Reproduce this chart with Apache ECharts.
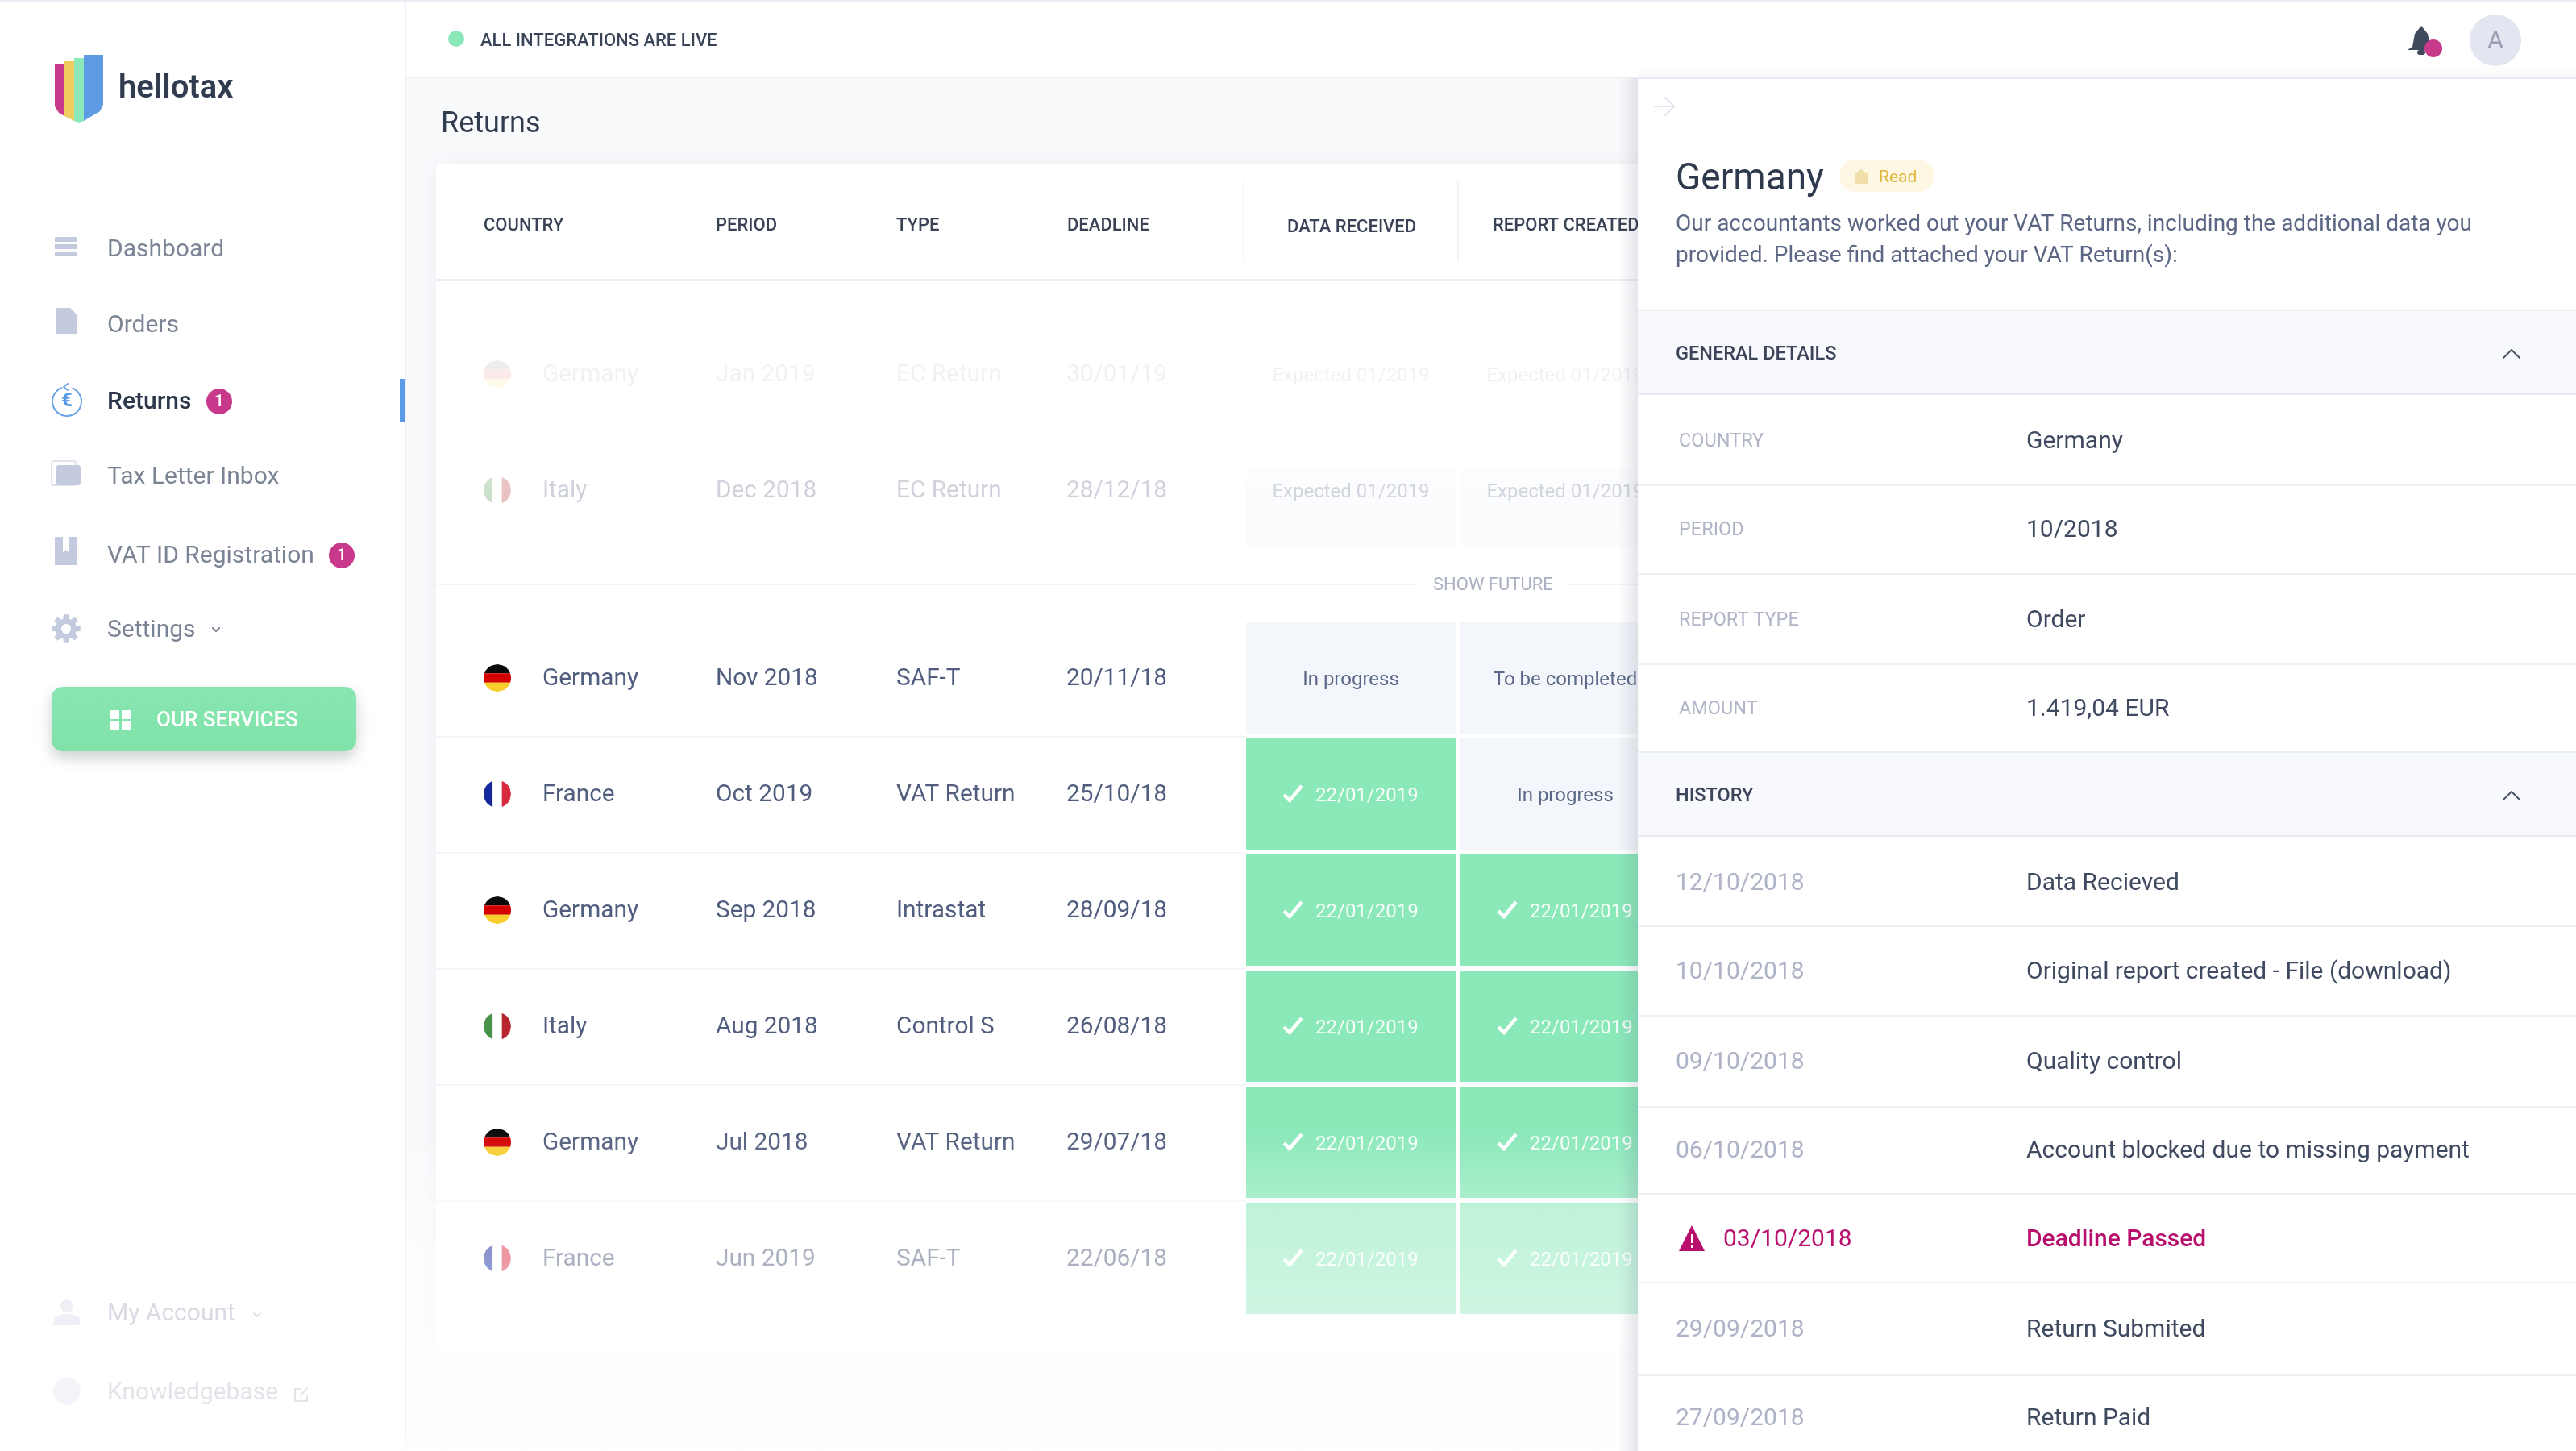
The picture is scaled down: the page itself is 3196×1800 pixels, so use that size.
<!DOCTYPE html>
<html lang="en">
<head>
<meta charset="UTF-8">
<title>hellotax returns</title>
<style>
html,body{margin:0;padding:0;background:#fff;}
#chart{width:3196px;height:1800px;}
</style>
</head>
<body>
<div id="chart"></div>
<script src="https://cdn.jsdelivr.net/npm/echarts@6/dist/echarts.min.js"></script>
<script>
// table data
var statusColumns = ['DATA RECEIVED', 'REPORT CREATED'];
var columnTitles = ['COUNTRY', 'PERIOD', 'TYPE', 'DEADLINE'];

var futureCountries = ['Germany', 'Italy'];
var futurePeriods = ['Jan 2019', 'Dec 2018'];
var futureTypes = ['EC Return', 'EC Return'];
var futureDeadlines = ['30/01/19', '28/12/18'];
var futureReceived = ['Expected 01/2019', 'Expected 01/2019'];
var futureCreated = ['Expected 01/2019', 'Expected 01/2019'];

var countries = ['Germany', 'France', 'Germany', 'Italy', 'Germany', 'France'];
var periods = ['Nov 2018', 'Oct 2019', 'Sep 2018', 'Aug 2018', 'Jul 2018', 'Jun 2019'];
var types = ['SAF-T', 'VAT Return', 'Intrastat', 'Control S', 'VAT Return', 'SAF-T'];
var deadlines = ['20/11/18', '25/10/18', '28/09/18', '26/08/18', '29/07/18', '22/06/18'];
var received = ['In progress', '22/01/2019', '22/01/2019', '22/01/2019', '22/01/2019', '22/01/2019'];
var created = ['To be completed', 'In progress', '22/01/2019', '22/01/2019', '22/01/2019', '22/01/2019'];

// side panel data
var detailLabels = ['COUNTRY', 'PERIOD', 'REPORT TYPE', 'AMOUNT'];
var detailValues = ['Germany', '10/2018', 'Order', '1.419,04 EUR'];
var historyDates = ['12/10/2018', '10/10/2018', '09/10/2018', '06/10/2018', '03/10/2018', '29/09/2018', '27/09/2018'];
var historyEvents = ['Data Recieved', 'Original report created - File (download)', 'Quality control',
    'Account blocked due to missing payment', 'Deadline Passed', 'Return Submited', 'Return Paid'];
var navItems = ['Dashboard', 'Orders', 'Returns', 'Tax Letter Inbox', 'VAT ID Registration', 'Settings'];

// layout (pixels in the 3196x1800 page)
var FONT = 'Roboto';
var GREEN = '#8ae8b9', PINK = '#c8388b', CRIMSON = '#b80f6d', ICON = '#c5cbdf';
var PANEL_X = 2032, CARD_X = 541;
var COL_X = [673, 888, 1112, 1323];
var FLAGS = {
    Germany: {dir: 'h', colors: ['#0a0a0a', '#d40000', '#f8cd2c']},
    France: {dir: 'v', colors: ['#14289b', '#ffffff', '#d92b3f']},
    Italy: {dir: 'v', colors: ['#4a9149', '#ffffff', '#b7262f']}
};

var g = [];

function rect(x, y, w, h, fill, z, r, extra) {
    var style = {fill: fill};
    if (extra) { for (var k in extra) style[k] = extra[k]; }
    g.push({type: 'rect', silent: true, z: z || 0, shape: {x: x, y: y, width: w, height: h, r: r || 0}, style: style});
}
function text(str, x, y, size, color, z, weight, align, family) {
    g.push({type: 'text', silent: true, z: z || 0, style: {
        text: str, x: x, y: y + 2, fill: color, align: align || 'left', verticalAlign: 'middle',
        font: (weight || 400) + ' ' + size + 'px ' + (family || FONT)
    }});
}
function circle(cx, cy, r, fill, z) {
    g.push({type: 'circle', silent: true, z: z || 0, shape: {cx: cx, cy: cy, r: r}, style: {fill: fill}});
}
function poly(points, fill, z) {
    g.push({type: 'polygon', silent: true, z: z || 0, shape: {points: points}, style: {fill: fill}});
}
function stroke(points, color, width, z) {
    g.push({type: 'polyline', silent: true, z: z || 0, shape: {points: points},
        style: {fill: 'none', stroke: color, lineWidth: width, lineCap: 'round', lineJoin: 'round'}});
}
function vfade(stops) {
    return {type: 'linear', x: 0, y: 0, x2: 0, y2: 1, colorStops: stops};
}

// one band of a round flag, sampled along the circle
function flagBand(cx, cy, r, dir, a, b) {
    var pts = [], i, t, half;
    for (i = 0; i <= 8; i++) {
        t = a + (b - a) * i / 8;
        half = Math.sqrt(Math.max(r * r - t * t, 0));
        pts.push(dir === 'h' ? [cx - half, cy + t] : [cx + t, cy - half]);
    }
    for (i = 8; i >= 0; i--) {
        t = a + (b - a) * i / 8;
        half = Math.sqrt(Math.max(r * r - t * t, 0));
        pts.push(dir === 'h' ? [cx + half, cy + t] : [cx + t, cy + half]);
    }
    return pts;
}

function gearPoints(cx, cy, ro, ri, teeth) {
    var pts = [], i, a, step = Math.PI * 2 / teeth;
    for (i = 0; i < teeth; i++) {
        a = i * step;
        [[-0.32, ri], [-0.2, ro], [0.2, ro], [0.32, ri]].forEach(function (p) {
            var t = a + p[0] * step * 1.1;
            pts.push([cx + Math.cos(t) * p[1], cy + Math.sin(t) * p[1]]);
        });
    }
    return pts;
}

function drawPage() {
    // sidebar + header
    rect(0, 0, 502, 1800, '#ffffff', 0);
    rect(502, 0, 2, 1780, '#eff1f6', 0);
    rect(504, 0, 2692, 96, '#ffffff', 0);
    rect(504, 95, 2692, 2, '#eceef5', 0);
    rect(0, 0, 3196, 2, '#e8ecf3', 1);
    rect(496, 470, 6, 54, '#5b9ae6', 1);

    // logo
    poly([[68, 80], [80, 80], [80, 144], [73, 140], [68, 132]], PINK);
    poly([[80, 76], [92, 76], [92, 150], [80, 144]], '#efcc5f');
    poly([[92, 72], [104, 72], [104, 150], [98, 152], [92, 150]], GREEN);
    poly([[104, 68], [128, 68], [128, 130], [124, 138], [104, 150]], '#5f9ae4');
    text('hellotax', 147, 109, 40, '#323c50', 0, 600);

    // nav
    var navY = [308, 402, 497, 590, 688, 780];
    navItems.forEach(function (name, i) {
        var active = name === 'Returns';
        text(name, 133, navY[i], 30, active ? '#2c374c' : '#7b8494', 0, active ? 500 : 400);
    });
    rect(68, 294, 28, 6, ICON); rect(68, 303, 28, 6, ICON); rect(68, 312, 28, 6, ICON);
    poly([[70, 382], [87, 382], [96, 391], [96, 414], [70, 414]], ICON);
    // returns icon
    g.push({type: 'arc', silent: true, shape: {cx: 83, cy: 498, r: 18, startAngle: -1.2, endAngle: -1.9},
        style: {fill: 'none', stroke: '#6ba3e8', lineWidth: 2}});
    stroke([[84, 476], [79, 480], [84, 484]], '#6ba3e8', 2);
    text('€', 83, 496, 24, '#5b9ae6', 0, 700, 'center');
    // folder
    rect(64, 572, 30, 30, '#ffffff', 0, 3, {stroke: '#dfe3ee', lineWidth: 2});
    rect(70, 577, 30, 25, ICON, 0, 3);
    // bookmark
    poly([[68, 666], [78, 666], [78, 686], [82, 682], [86, 686], [86, 666], [96, 666], [96, 701], [68, 701]], ICON);
    // gear
    poly(gearPoints(82, 780, 18, 13, 8), ICON);
    circle(82, 780, 6, '#ffffff');
    stroke([[264, 779], [268, 783], [272, 779]], '#7b8494', 2);
    [[272, 498], [424, 689]].forEach(function (p) {
        circle(p[0], p[1], 16, PINK);
        text('1', p[0], p[1] - 1, 21, '#ffffff', 0, 500, 'center');
    });

    // button
    rect(64, 852, 378, 80, vfade([{offset: 0, color: '#88e6b2'}, {offset: 1, color: '#80e2a8'}]), 0, 14,
        {shadowBlur: 18, shadowOffsetY: 8, shadowColor: 'rgba(70,90,90,0.28)'});
    rect(136, 881, 12, 11, '#ffffff'); rect(151, 881, 12, 11, '#ffffff');
    rect(136, 895, 12, 11, '#ffffff'); rect(151, 895, 12, 11, '#ffffff');
    text('OUR SERVICES', 194, 892, 26, '#ffffff', 0, 500);

    // faded sidebar foot
    circle(83, 1620, 8, '#eef0f5');
    poly([[66, 1644], [68, 1634], [78, 1630], [88, 1630], [98, 1634], [100, 1644]], '#eef0f5');
    text('My Account', 133, 1628, 30, '#d8dbe3');
    stroke([[315, 1629], [319, 1633], [323, 1629]], '#dfe2e8', 2);
    circle(83, 1726, 17, '#f3f5fa');
    text('Knowledgebase', 133, 1726, 30, '#e2e4ea');
    stroke([[372, 1723], [366, 1723], [366, 1738], [381, 1738], [381, 1732]], '#e2e4ea', 2);
    stroke([[373, 1731], [381, 1722]], '#e2e4ea', 2);

    // top bar
    circle(566, 48, 10, GREEN);
    text('ALL INTEGRATIONS ARE LIVE', 596, 49, 22, '#3a4458', 0, 500);
    text('Returns', 547, 153, 36, '#333d50');
    // bell
    poly([[3004, 32], [3012, 42], [3015, 58], [3021, 62], [2987, 62], [2993, 58], [2996, 42]], '#3f4a5e', 3);
    rect(2999, 62, 10, 6, '#3f4a5e', 3, 3);
    circle(3019, 60, 11, PINK, 3);
    circle(3096, 50, 32, '#e3e6f0', 3);
    text('A', 3096, 50, 31, '#9aa1b5', 3, 400, 'center');

    // table card
    rect(CARD_X, 204, 1600, 1472, '#ffffff', 0, 6, {shadowBlur: 24, shadowColor: 'rgba(80,90,120,0.07)'});
    rect(CARD_X, 346, 1600, 2, '#eceef5', 1);
    rect(1542, 224, 2, 101, '#f1f3f7', 1);
    rect(1808, 224, 2, 101, '#f1f3f7', 1);
    var headX = [600, 888, 1112, 1324];
    columnTitles.forEach(function (name, i) { text(name, headX[i], 278, 22, '#3a4256', 1, 500); });
    text(statusColumns[0], 1597, 280, 22, '#3a4256', 1, 500);
    text(statusColumns[1], 1852, 278, 22, '#3a4256', 1, 500);
    [913, 1057, 1201, 1345, 1489].forEach(function (y) { rect(CARD_X, y, 1005, 2, '#f4f5f8', 1); });

    // fades over the table (z above series)
    rect(CARD_X, 349, 1600, 367, vfade([
        {offset: 0, color: 'rgba(255,255,255,0.98)'},
        {offset: 0.3, color: 'rgba(255,255,255,0.92)'},
        {offset: 0.7, color: 'rgba(255,255,255,0.72)'},
        {offset: 1, color: 'rgba(255,255,255,0.6)'}
    ]), 5);
    rect(504, 1400, 1530, 400, vfade([
        {offset: 0, color: 'rgba(255,255,255,0)'},
        {offset: 0.22, color: 'rgba(255,255,255,0.28)'},
        {offset: 0.24, color: 'rgba(255,255,255,0.46)'},
        {offset: 0.58, color: 'rgba(255,255,255,0.58)'},
        {offset: 0.7, color: 'rgba(255,255,255,0.8)'},
        {offset: 1, color: 'rgba(255,255,255,0.9)'}
    ]), 5);
    rect(CARD_X, 724, 1216, 2, '#f4f5f8', 6);
    rect(1946, 724, 90, 2, '#f4f5f8', 6);
    text('SHOW FUTURE', 1778, 724, 22, '#abb0c2', 6);

    // side panel
    rect(2008, 97, 24, 1703, {type: 'linear', x: 0, y: 0, x2: 1, y2: 0, colorStops: [
        {offset: 0, color: 'rgba(70,80,110,0)'}, {offset: 1, color: 'rgba(70,80,110,0.14)'}
    ]}, 8);
    rect(PANEL_X, 80, 1164, 16, vfade([
        {offset: 0, color: 'rgba(70,80,110,0)'}, {offset: 1, color: 'rgba(70,80,110,0.03)'}
    ]), 8);
    rect(PANEL_X, 96, 1164, 2, '#e9ecf4', 9);
    rect(PANEL_X, 98, 1164, 1702, '#ffffff', 9);

    stroke([[2053, 132], [2077, 132]], '#e2e5ef', 2, 10);
    stroke([[2066, 121], [2077, 132], [2066, 143]], '#e2e5ef', 2, 10);
    text('Germany', 2079, 221, 46, '#2f3a4f', 10);
    rect(2282, 198, 118, 40, '#fdf7e3', 10, 20);
    poly([[2301, 216], [2309, 210], [2318, 216], [2318, 228], [2301, 228]], '#f0dfa8', 10);
    text('Read', 2331, 219, 21, '#dfb93f', 10);
    text('Our accountants worked out your VAT Returns, including the additional data you', 2079, 277, 28, '#5b6784', 10);
    text('provided. Please find attached your VAT Return(s):', 2079, 316, 28, '#5b6784', 10);

    // general details
    rect(PANEL_X, 385, 1164, 104, '#f8f9fc', 10);
    rect(PANEL_X, 384, 1164, 2, '#e9ecf4', 10);
    rect(PANEL_X, 488, 1164, 2, '#e9ecf4', 10);
    text('GENERAL DETAILS', 2079, 438, 23.5, '#3b4458', 10, 500);
    stroke([[3106, 444], [3116, 434], [3126, 444]], '#4a5368', 2, 10);
    var detailY = [546, 656, 768, 878], detailLine = [601, 711, 823];
    detailLabels.forEach(function (name, i) {
        text(name, 2083, detailY[i], 23.5, '#b0b5c7', 10);
        text(detailValues[i], 2514, detailY[i], 30, '#3f4a60', 10);
    });
    detailLine.forEach(function (y) { rect(PANEL_X, y, 1164, 2, '#eef0f5', 10); });

    // history
    rect(PANEL_X, 933, 1164, 104, '#f8f9fc', 10);
    rect(PANEL_X, 932, 1164, 2, '#e9ecf4', 10);
    rect(PANEL_X, 1036, 1164, 2, '#e9ecf4', 10);
    text('HISTORY', 2079, 986, 23.5, '#3b4458', 10, 500);
    stroke([[3106, 992], [3116, 982], [3126, 992]], '#4a5368', 2, 10);
    var histY = [1094, 1204, 1316, 1426, 1536, 1648, 1758], histLine = [1148, 1259, 1372, 1480, 1590, 1705];
    historyDates.forEach(function (d, i) {
        var late = historyEvents[i] === 'Deadline Passed';
        text(d, late ? 2138 : 2079, histY[i], 30, late ? CRIMSON : '#aeb3c6', 10);
        text(historyEvents[i], 2514, histY[i], 30, late ? CRIMSON : '#3f4a60', 10, late ? 500 : 400);
        if (late) {
            poly([[2099, 1520], [2115, 1552], [2083, 1552]], CRIMSON, 10);
            rect(2098, 1531, 2.5, 11, '#ffffff', 11);
            rect(2098, 1545, 2.5, 3, '#ffffff', 11);
        }
    });
    histLine.forEach(function (y) { rect(PANEL_X, y, 1164, 2, '#eef0f5', 10); });
}

// table rows go through the category axes of each grid
function rowSeries(gridIndex, rowCountries, rowPeriods, rowTypes, rowDeadlines) {
    return {
        type: 'custom', xAxisIndex: gridIndex, yAxisIndex: gridIndex, z: 2,
        data: rowCountries.map(function (c, i) { return [0, i]; }),
        renderItem: function (params, api) {
            var i = api.value(1), y = api.coord([0, i])[1], items = [];
            var flag = FLAGS[rowCountries[i]], r = 17, c = flag.colors;
            [[-17, -5.7], [-5.7, 5.7], [5.7, 17]].forEach(function (band, b) {
                items.push({type: 'polygon', shape: {points: flagBand(617, y, r, flag.dir, band[0], band[1])}, style: {fill: c[b]}});
            });
            [rowCountries[i], rowPeriods[i], rowTypes[i], rowDeadlines[i]].forEach(function (str, k) {
                items.push({type: 'text', style: {
                    text: str, x: COL_X[k], y: y + 2, fill: '#515d7e', align: 'left', verticalAlign: 'middle',
                    font: '400 29.8px ' + FONT
                }});
            });
            return {type: 'group', children: items};
        }
    };
}

function statusSeries(gridIndex, columnValues) {
    var data = [];
    columnValues.forEach(function (values, col) {
        values.forEach(function (v, row) { data.push([col, row, v]); });
    });
    return {
        type: 'custom', xAxisIndex: gridIndex, yAxisIndex: gridIndex, z: 2,
        encode: {x: 0, y: 1},
        data: data,
        renderItem: function (params, api) {
            var p = api.coord([api.value(0), api.value(1)]), size = api.size([1, 1]);
            var row = api.value(1), label = data[params.dataIndex][2], done = /^\d/.test(label);
            var w = size[0] - 6, h = size[1] - 6, top = p[1] - h / 2;
            var fill = done ? GREEN : '#f3f6fa', items = [];
            if (gridIndex === 1) {
                // future cells only show below the fade: first row not at all, second from ~30% down
                if (row === 1) {
                    items.push({type: 'rect', shape: {x: p[0] - w / 2, y: top + h * 0.3, width: w, height: h * 0.7}, style: {fill: fill}});
                }
            } else {
                items.push({type: 'rect', shape: {x: p[0] - w / 2, y: top, width: w, height: h}, style: {fill: fill}});
            }
            if (done) {
                items.push({type: 'polyline', shape: {points: [[p[0] - 83, p[1] + 1], [p[0] - 76, p[1] + 8], [p[0] - 61, p[1] - 10]]},
                    style: {fill: 'none', stroke: '#ffffff', lineWidth: 4.5}});
            }
            items.push({type: 'text', style: {
                text: label, x: done ? p[0] - 44 : p[0], y: p[1] + 3,
                fill: done ? 'rgba(255,255,255,0.92)' : '#5a6786',
                align: done ? 'left' : 'center', verticalAlign: 'middle', font: '400 24px ' + FONT
            }});
            return {type: 'group', children: items};
        }
    };
}

function hiddenAxis(gridIndex, type, data, inverse) {
    return {type: type, gridIndex: gridIndex, data: data, inverse: !!inverse, show: false};
}

drawPage();

var chart = echarts.init(document.getElementById('chart'), null, {renderer: 'canvas'});
chart.setOption({
    animation: false,
    backgroundColor: '#f9fafc',
    tooltip: {show: false},
    grid: [
        {left: 1543, top: 769, width: 532, height: 864},
        {left: 1543, top: 392, width: 532, height: 288}
    ],
    xAxis: [hiddenAxis(0, 'category', statusColumns), hiddenAxis(1, 'category', statusColumns)],
    yAxis: [hiddenAxis(0, 'category', periods, true), hiddenAxis(1, 'category', futurePeriods, true)],
    series: [
        rowSeries(0, countries, periods, types, deadlines),
        statusSeries(0, [received, created]),
        rowSeries(1, futureCountries, futurePeriods, futureTypes, futureDeadlines),
        statusSeries(1, [futureReceived, futureCreated])
    ],
    graphic: {elements: g}
});
</script>
</body>
</html>
